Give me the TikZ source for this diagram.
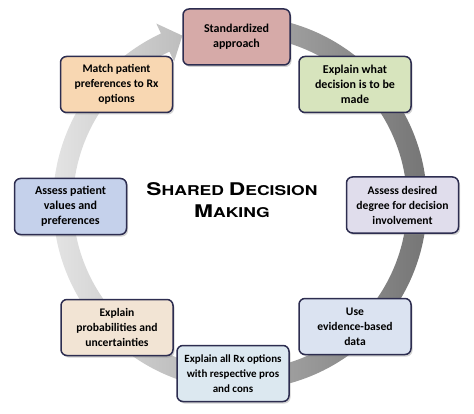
\documentclass[tikz,border=0pt]{standalone}
\usepackage{fontspec}
\setmainfont{Carlito}
\newfontfamily\titlefont[FakeStretch=1.3]{TeX Gyre Heros}
\usetikzlibrary{shadows, calc}
\definecolor{boxline}{RGB}{45,45,80}
\definecolor{stdfill}{RGB}{214,170,168}
\definecolor{whatfill}{RGB}{215,228,189}
\definecolor{degreefill}{RGB}{224,221,236}
\definecolor{evidencefill}{RGB}{219,227,241}
\definecolor{optionsfill}{RGB}{220,232,240}
\definecolor{probfill}{RGB}{242,228,212}
\definecolor{valuesfill}{RGB}{197,209,235}
\definecolor{matchfill}{RGB}{248,215,178}
\newcommand{\tcap}[1]{{\fontsize{17.5}{22}\selectfont #1}}

\begin{document}
\begin{tikzpicture}[x=1pt, y=1pt,
  stepbox/.style={rectangle, rounded corners=6pt, draw=boxline, line width=1.5pt, fill=#1,
    minimum width=112pt, minimum height=56pt, align=center, inner sep=2pt,
    font=\bfseries\fontsize{11.6}{15}\selectfont, text=black,
    drop shadow={opacity=0.35, shadow xshift=1.5pt, shadow yshift=-2pt}}]

\useasboundingbox (0,0) rectangle (474,413);

% Cycle arrow

\coordinate (ringc) at (240,210);
\shade[left color=black!10, right color=black!55, shift={(ringc)}]
  (95:187) arc[start angle=95, end angle=-245, radius=187] -- (-245:198) -- (-251:177)
  -- (-245:156) -- (-245:167) arc[start angle=-245, end angle=95, radius=167] -- cycle;

% Steps

\node [stepbox=stdfill, minimum width=107pt, font=\bfseries\fontsize{12}{15}\selectfont] (standard) at (236.5,376) {Standardized\\approach};
\node [stepbox=whatfill, font=\bfseries\fontsize{12}{15}\selectfont] (what) at (355,328.5) {Explain what\\decision is to be\\made};
\node [stepbox=degreefill] (degree) at (402.5,208) {Assess desired\\degree for decision\\involvement};
\node [stepbox=evidencefill] (evidence) at (355,86.5) {Use\\evidence-based\\data};
\node [stepbox=optionsfill, font=\bfseries\fontsize{11}{15}\selectfont] (options) at (233,39.5) {Explain all Rx options\\with respective pros\\and cons};
\node [stepbox=probfill] (prob) at (117,85.5) {Explain\\probabilities and\\uncertainties};
\node [stepbox=valuesfill, font=\bfseries\fontsize{12}{15}\selectfont] (values) at (70.5,206.5) {Assess patient\\values and\\preferences};
\node [stepbox=matchfill] (match) at (116.5,328.5) {Match patient\\preferences to Rx\\options};

% Title

\node [font=\titlefont\bfseries\fontsize{13.5}{22}\selectfont, align=center] (title) at (232,213)
{\tcap{S}HARED \tcap{D}ECISION\\\tcap{M}AKING};

\end{tikzpicture}
\end{document}
